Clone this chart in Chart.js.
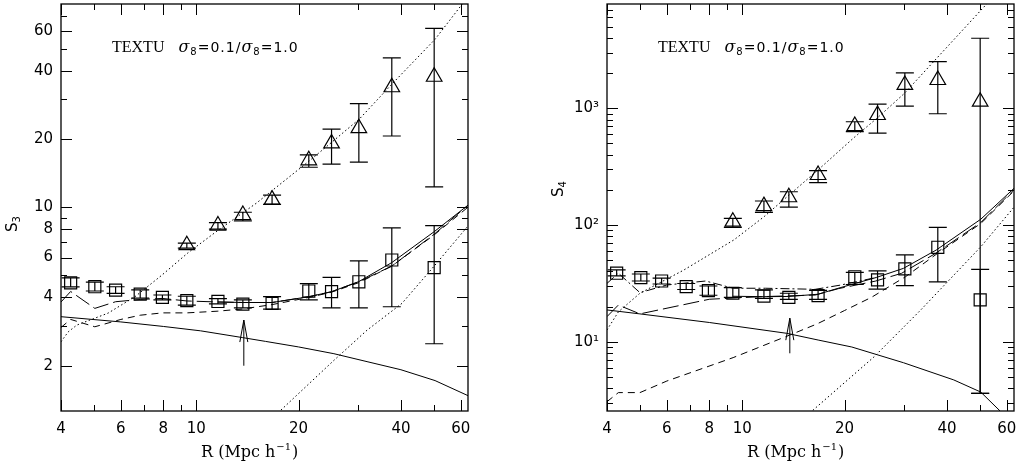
<!DOCTYPE html>
<html lang="en">
<head>
<meta charset="UTF-8">
<title>S3 / S4 vs R</title>
<script src="https://cdn.jsdelivr.net/npm/chart.js"></script>
<style>
  body { margin: 0; background: #fff; width: 1016px; height: 465px; position: relative; overflow: hidden; }
  canvas { position: absolute; top: 0; }
  #leftChart { left: 0; }
  #rightChart { left: 520px; }
</style>
</head>
<body>
<canvas id="leftChart" width="480" height="465"></canvas>
<canvas id="rightChart" width="496" height="465"></canvas>

<script>
// radii of the measured points (Mpc/h)
const R = [4.27, 5.03, 5.79, 6.84, 7.95, 9.38, 11.58, 13.71, 16.71, 21.43, 25.0, 30.08, 37.6, 50.1];
const R_TRI = [9.38, 11.58, 13.71, 16.71, 21.43, 25.0, 30.08, 37.6, 50.1];

// S3 panel: squares (sigma8=1.0) and triangles (sigma8=0.1)
const s3Sq   = [4.64, 4.46, 4.31, 4.14, 4.0, 3.87, 3.84, 3.74, 3.77, 4.27, 4.24, 4.69, 5.85, 5.41];
const s3SqLo = [4.45, 4.27, 4.17, 3.97, 3.9, 3.7, 3.75, 3.6, 3.55, 3.9, 3.6, 3.6, 3.64, 2.5];
const s3SqHi = [4.88, 4.67, 4.46, 4.32, 4.1, 4.05, 3.95, 3.9, 4.03, 4.6, 4.9, 5.8, 8.1, 8.3];
const s3Tri   = [6.8, 8.3, 9.24, 10.8, 16.1, 19.1, 22.3, 33.8, 37.6];
const s3TriLo = [6.6, 8.0, 8.7, 10.3, 15.0, 15.5, 15.8, 20.6, 12.3];
const s3TriHi = [6.95, 8.55, 9.5, 11.3, 17.0, 22.1, 28.6, 45.5, 61.5];

// S3 panel curves
const s3DotUpX = [4, 4.2, 4.45, 4.81, 5.5, 6.6, 7.9, 9.46, 11.58, 15, 21.5, 25.2, 30.2, 37.7, 50.4, 60.6, 64];
const s3DotUpY = [2.55, 2.82, 3.02, 3.16, 3.41, 4.03, 5.0, 6.3, 7.9, 10.4, 16, 19.5, 24.5, 35, 55, 78.7, 88];
const s3DotLoX = [17.4, 25.3, 31.8, 40.3, 50.1, 64];
const s3DotLoY = [1.24, 2.1, 2.87, 3.77, 5.5, 8.5];
const s3DownX = [4, 6, 8, 10.3, 13.7, 16, 20, 25.4, 32, 40, 50.4, 64];
const s3DownY = [3.29, 3.12, 2.98, 2.85, 2.66, 2.56, 2.42, 2.26, 2.08, 1.92, 1.72, 1.46];
const s3LongX = [4, 4.27, 5.03, 5.79, 6.84, 7.95, 9.38, 11.58, 13.71, 16.71, 21.43, 25, 30.08, 37.6, 50.1, 64];
const s3LongY = [3.82, 4.25, 3.58, 3.83, 3.92, 3.96, 3.86, 3.82, 3.8, 3.8, 4.03, 4.24, 4.69, 5.5, 7.6, 10.4];
const s3ShortX = [4, 4.27, 5.03, 6.0, 6.84, 7.95, 9.38, 11.58, 13.71, 16.71, 21.43, 25, 30.08, 37.6, 50.1, 64];
const s3ShortY = [2.95, 3.2, 2.97, 3.2, 3.34, 3.42, 3.42, 3.48, 3.56, 3.72, 4.0, 4.22, 4.65, 5.5, 7.55, 10.2];
const s3FitX = [11.58, 13.71, 16.71, 21.43, 25, 30.08, 37.6, 50.1, 64];
const s3FitY = [3.82, 3.8, 3.8, 4.03, 4.24, 4.7, 5.7, 7.8, 10.4];

// S4 panel: squares and triangles
const s4Sq   = [38.6, 35.4, 33.1, 29.6, 27.4, 26.0, 24.6, 24.0, 24.8, 36.0, 33.8, 42.0, 64.4, 22.8];
const s4SqLo = [36.6, 33.1, 31.2, 28, 25, 24, 23.5, 23, 23, 30.9, 28.2, 30.2, 32.6, 3.6];
const s4SqHi = [41.2, 38.0, 35.0, 31.5, 30, 29, 27.8, 26, 27.5, 39.3, 40.4, 55.4, 95.4, 41.7];
const s4Tri   = [106.7, 145, 172.8, 268, 705, 876, 1585, 1748, 1139];
const s4TriLo = [95.5, 128, 142, 231, 632, 612, 1045, 898, 3.6];
const s4TriHi = [113.8, 160.5, 192.7, 292, 767, 1086, 2012, 2512, 3982];

// S4 panel curves
const s4DotUpX = [4, 4.32, 5.0, 6.72, 9.45, 11.6, 16.7, 21.3, 25, 30, 52.6, 56];
const s4DotUpY = [12.6, 18.0, 26, 41, 74.5, 118, 296, 560, 830, 1344, 7950, 9800];
const s4DotLoX = [15.8, 24.4, 33.5, 50.3, 64];
const s4DotLoY = [2.45, 7.4, 18.7, 65, 150];
const s4DownX = [4, 5, 8, 13.5, 16.8, 21, 29.8, 41.9, 50.3, 57.3, 60];
const s4DownY = [18.7, 17.3, 14.6, 11.8, 10.3, 9.0, 6.6, 4.7, 3.7, 2.55, 2.1];
const s4LongX = [4, 4.32, 5.0, 8.0, 11.4, 16.4, 19.2, 24.6, 29.4, 37, 50.3, 64];
const s4LongY = [16.4, 20.6, 17.3, 23.1, 24.3, 25.1, 28.5, 33, 38.5, 57, 105, 210];
const s4ShortX = [4, 4.32, 5.0, 6.0, 9.4, 13.8, 16.6, 20, 24, 30.2, 37.5, 50.3, 64];
const s4ShortY = [3.06, 3.66, 3.66, 4.6, 7.3, 11.4, 14.2, 18.5, 24, 36, 57, 103, 205];
const s4DashDotX = [4, 4.32, 5.0, 6.0, 7.8, 9.4, 11.7, 16.4, 19.4, 24.8];
const s4DashDotY = [31.6, 38.6, 26.3, 30.6, 33.1, 28.7, 28.7, 28.1, 30.5, 35.5];
const s4FitX = [9.38, 11.58, 13.71, 16.71, 19.4, 24.8, 29.8, 37.2, 50.3, 64];
const s4FitY = [24.5, 24.3, 24.4, 25.5, 29.0, 35.5, 42.5, 61, 112, 215];

// arrows: x position and [from, to] in y
const arrowX = 13.8;
const s3Arrow = [2.0, 3.18];
const s4Arrow = [7.95, 15.9];

// axis ticks
const xLabelTicks = [4, 6, 8, 10, 20, 40, 60];
const xMinorTicks = [5, 7, 9, 30, 50];
const s3LabelTicks = [2, 4, 6, 8, 10, 20, 40, 60];
const s3MinorTicks = [3, 5, 7, 9, 30, 50, 70];
const s4LabelTicks = [10, 100, 1000];
const s4MinorTicks = [3, 4, 5, 6, 7, 8, 9, 20, 30, 40, 50, 60, 70, 80, 90,
                      200, 300, 400, 500, 600, 700, 800, 900, 2000, 3000, 4000, 5000, 6000, 7000];
const s4Names = { 10: '10¹', 100: '10²', 1000: '10³' };

const pts = (xs, ys) => xs.map((x, i) => ({ x: x, y: ys[i] }));

function curve(xs, ys, dash) {
    return { type: 'line', data: pts(xs, ys), borderColor: '#000', borderWidth: 1,
             borderDash: dash, pointRadius: 0, fill: false, tension: 0, order: 2 };
}
function markers(xs, ys, lo, hi, style, r) {
    return { type: 'line', data: pts(xs, ys), showLine: false, pointStyle: style, pointRadius: r,
             pointBorderColor: '#000', pointBackgroundColor: 'rgba(0,0,0,0)', pointBorderWidth: 1.2,
             errLo: lo, errHi: hi, order: 1 };
}

// inward tick marks on all four sides plus the frame
const frameTicks = {
    id: 'frameTicks',
    afterDraw(chart, args, o) {
        const { ctx, chartArea: a } = chart;
        const xs = chart.scales.x, ys = chart.scales.y;
        ctx.save();
        ctx.strokeStyle = '#000';
        ctx.lineWidth = 1;
        ctx.beginPath();
        const xt = (vals, len) => vals.forEach(v => {
            const p = Math.round(xs.getPixelForValue(v)) + 0.5;
            ctx.moveTo(p, a.bottom); ctx.lineTo(p, a.bottom - len);
            ctx.moveTo(p, a.top); ctx.lineTo(p, a.top + len);
        });
        const yt = (vals, len) => vals.forEach(v => {
            const p = Math.round(ys.getPixelForValue(v)) + 0.5;
            if (p < a.top || p > a.bottom) return;
            ctx.moveTo(a.left, p); ctx.lineTo(a.left + len, p);
            ctx.moveTo(a.right, p); ctx.lineTo(a.right - len, p);
        });
        xt(o.xMajor, 11); xt(o.xMinor, 6);
        yt(o.yMajor, 11); yt(o.yMinor, 6);
        ctx.stroke();
        ctx.lineWidth = 1.3;
        ctx.strokeRect(a.left, a.top, a.right - a.left, a.bottom - a.top);
        ctx.restore();
    }
};

// vertical error bars with caps
const errorBars = {
    id: 'errorBars',
    afterDatasetsDraw(chart) {
        const { ctx, chartArea: a } = chart;
        const xs = chart.scales.x, ys = chart.scales.y;
        ctx.save();
        ctx.beginPath();
        ctx.rect(a.left, a.top, a.right - a.left, a.bottom - a.top);
        ctx.clip();
        ctx.strokeStyle = '#000';
        ctx.lineWidth = 1.2;
        chart.data.datasets.forEach(ds => {
            if (!ds.errLo) return;
            ds.data.forEach((p, i) => {
                const x = xs.getPixelForValue(p.x);
                const y1 = ys.getPixelForValue(ds.errLo[i]);
                const y2 = ys.getPixelForValue(ds.errHi[i]);
                ctx.beginPath();
                ctx.moveTo(x, y1); ctx.lineTo(x, y2);
                ctx.moveTo(x - 9, y1); ctx.lineTo(x + 9, y1);
                ctx.moveTo(x - 9, y2); ctx.lineTo(x + 9, y2);
                ctx.stroke();
            });
        });
        ctx.restore();
    }
};

// axis titles, panel label and the arrow
const notes = {
    id: 'notes',
    afterDraw(chart, args, o) {
        const { ctx, chartArea: a } = chart;
        const xs = chart.scales.x, ys = chart.scales.y;
        ctx.save();
        ctx.fillStyle = '#000';
        ctx.textBaseline = 'alphabetic';

        // panel label
        let cx = a.left + 51;
        const by = 52;
        const put = (t, font, dy) => {
            ctx.font = font;
            ctx.fillText(t, cx, by + (dy || 0));
            cx += ctx.measureText(t).width;
        };
        put('TEXTU', '16px "Liberation Serif"');
        cx += 14;
        ctx.letterSpacing = '1px';
        put('σ', 'italic 16px "DejaVu Serif"');
        put('8', '10px "DejaVu Sans"', 3);
        put('=0.1/', '14px "DejaVu Sans"');
        put('σ', 'italic 16px "DejaVu Serif"');
        put('8', '10px "DejaVu Sans"', 3);
        put('=1.0', '14px "DejaVu Sans"');
        ctx.letterSpacing = '0px';

        // x title
        cx = a.left + 140;
        const ty = 457;
        ctx.font = '16px "DejaVu Serif"';
        ctx.fillText('R (Mpc h', cx, ty);
        cx += ctx.measureText('R (Mpc h').width + 1;
        ctx.font = '10px "DejaVu Serif"';
        ctx.fillText('−1', cx, ty - 7);
        cx += ctx.measureText('−1').width + 1;
        ctx.font = '16px "DejaVu Serif"';
        ctx.fillText(')', cx, ty);

        // y title, rotated
        ctx.save();
        ctx.translate(a.left - 48, o.sY);
        ctx.rotate(-Math.PI / 2);
        ctx.font = '15px "DejaVu Sans"';
        ctx.textBaseline = 'middle';
        const sw = ctx.measureText('S').width;
        ctx.fillText('S', -8, 0);
        ctx.font = '10px "DejaVu Sans"';
        ctx.fillText(o.sub, -8 + sw, 4);
        ctx.restore();

        // arrow
        const px = xs.getPixelForValue(arrowX);
        const y0 = ys.getPixelForValue(o.arrow[0]);
        const y1 = ys.getPixelForValue(o.arrow[1]);
        ctx.strokeStyle = '#000';
        ctx.lineWidth = 1;
        ctx.beginPath();
        ctx.moveTo(px, y0); ctx.lineTo(px, y1);
        ctx.moveTo(px - 4, y1 + 22); ctx.lineTo(px, y1); ctx.lineTo(px + 4, y1 + 22);
        ctx.stroke();
        ctx.restore();
    }
};

function noPad(s) {
    s.paddingTop = 0; s.paddingBottom = 0; s.paddingLeft = 0; s.paddingRight = 0;
}

function makeChart(id, cfg) {
    return new Chart(document.getElementById(id), {
        type: 'line',
        data: { datasets: cfg.datasets },
        plugins: [errorBars, frameTicks, notes],
        options: {
            responsive: false,
            animation: false,
            devicePixelRatio: 1,
            layout: { autoPadding: false, padding: { top: 4, right: cfg.padRight, left: 0, bottom: 0 } },
            plugins: {
                legend: { display: false },
                tooltip: { enabled: false },
                frameTicks: { xMajor: xLabelTicks, xMinor: xMinorTicks, yMajor: cfg.yLabels, yMinor: cfg.yMinor },
                notes: { sub: cfg.sub, sY: cfg.sY, arrow: cfg.arrow }
            },
            scales: {
                x: {
                    type: 'logarithmic', min: 4, max: 63,
                    grid: { display: false, drawTicks: false },
                    border: { display: false },
                    afterFit: s => { s.height = 54; noPad(s); },
                    afterBuildTicks: s => { s.ticks = xLabelTicks.map(v => ({ value: v })); },
                    ticks: { autoSkip: false, maxRotation: 0, padding: 9, color: '#000',
                             font: { family: 'DejaVu Sans', size: 15 },
                             callback: v => String(v) }
                },
                y: {
                    type: 'logarithmic', min: cfg.yMin, max: cfg.yMax,
                    grid: { display: false, drawTicks: false },
                    border: { display: false },
                    afterFit: s => { s.width = cfg.yWidth; noPad(s); },
                    afterBuildTicks: s => { s.ticks = cfg.yLabels.map(v => ({ value: v })); },
                    ticks: { autoSkip: false, padding: 8, color: '#000',
                             font: { family: 'DejaVu Sans', size: 15 },
                             callback: cfg.yFormat }
                }
            }
        }
    });
}

makeChart('leftChart', {
    padRight: 12, yWidth: 61, yMin: 1.263, yMax: 78.7,
    yLabels: s3LabelTicks, yMinor: s3MinorTicks, yFormat: v => String(v),
    sub: '3', sY: 224, arrow: s3Arrow,
    datasets: [
        markers(R, s3Sq, s3SqLo, s3SqHi, 'rect', 8.5),
        markers(R_TRI, s3Tri, s3TriLo, s3TriHi, 'triangle', 9),
        curve(s3DotUpX, s3DotUpY, [1.5, 2.5]),
        curve(s3DotLoX, s3DotLoY, [1.5, 2.5]),
        curve(s3DownX, s3DownY, []),
        curve(s3LongX, s3LongY, [16, 5]),
        curve(s3ShortX, s3ShortY, [7, 5]),
        curve(s3FitX, s3FitY, [])
    ]
});

makeChart('rightChart', {
    padRight: 2, yWidth: 87, yMin: 2.546, yMax: 7830,
    yLabels: s4LabelTicks, yMinor: s4MinorTicks, yFormat: v => s4Names[v] || '',
    sub: '4', sY: 189, arrow: s4Arrow,
    datasets: [
        markers(R, s4Sq, s4SqLo, s4SqHi, 'rect', 8.5),
        markers(R_TRI, s4Tri, s4TriLo, s4TriHi, 'triangle', 9),
        curve(s4DotUpX, s4DotUpY, [1.5, 2.5]),
        curve(s4DotLoX, s4DotLoY, [1.5, 2.5]),
        curve(s4DownX, s4DownY, []),
        curve(s4LongX, s4LongY, [16, 5]),
        curve(s4ShortX, s4ShortY, [7, 5]),
        curve(s4DashDotX, s4DashDotY, [9, 3, 2, 3]),
        curve(s4FitX, s4FitY, [])
    ]
});
</script>
</body>
</html>
